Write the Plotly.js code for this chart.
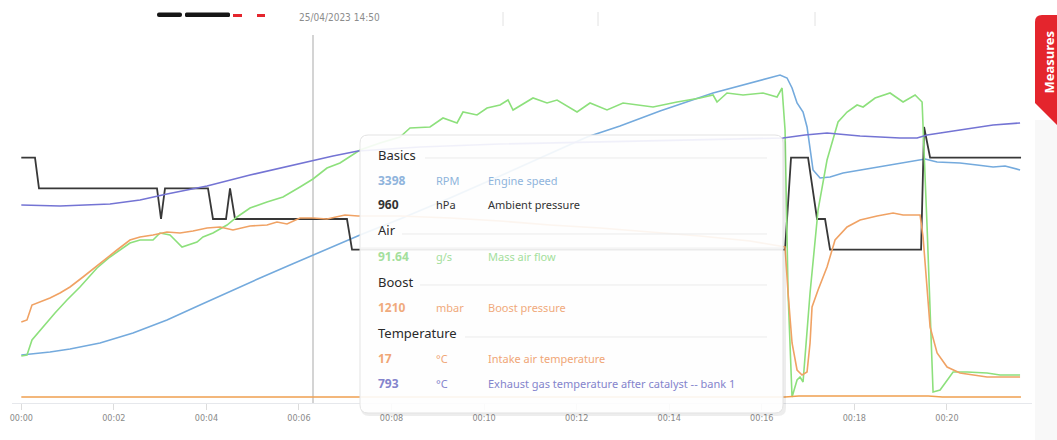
<!DOCTYPE html>
<html>
<head>
<meta charset="utf-8">
<script src="https://cdn.plot.ly/plotly-3.0.1.min.js"></script>
<style>html,body{margin:0;padding:0;background:#fff;}#chart{width:1057px;height:440px;}</style>
</head>
<body>
<div id="chart"></div>
<script>
// ---------- DATA (time in minutes) ----------
const tickVals = [0, 2, 4, 6, 8, 10, 12, 14, 16, 18, 20];
const tickLabels = ["00:00","00:02","00:04","00:06","00:08","00:10","00:12","00:14","00:16","00:18","00:20"];

// Engine speed (RPM)
const rpmT = [0,0.330,0.620,1.052,1.701,2.414,3.148,3.861,4.574,5.158,5.806,6.303,6.886,7.319,8.183,9.263,10.344,11.425,12.224,12.937,13.801,14.947,15.746,16.179,16.395,16.546,16.654,16.762,16.892,16.978,17.043,17.108,17.259,17.475,17.756,18.491,19.356,19.529,19.788,20.282,20.652,20.998,21.257,21.581];
const rpmV = [1400,1430,1460,1520,1640,1840,2100,2400,2700,2940,3200,3400,3640,3800,4120,4540,4980,5420,5760,5980,6280,6640,6840,6940,7000,6940,6740,6440,6260,5960,5500,5100,4940,4960,5040,5160,5300,5320,5260,5240,5200,5160,5180,5100];

// Ambient pressure (hPa)
const ambT = [0,0.296,0.382,2.932,3.019,3.105,4.034,4.142,4.423,4.510,4.618,7.037,7.146,16.503,16.632,17.000,17.194,17.367,17.475,19.442,19.507,19.637,21.602];
const ambV = [962,962,961,961,960,961,961,960,960,961,960,960,959,959,962,962,960,960,959,959,963,962,962];

// Mass air flow (g/s)
const mafT = [0,0.123,0.231,0.469,0.728,0.987,1.268,1.636,1.917,2.348,2.565,2.846,2.997,3.213,3.473,3.797,3.926,4.142,4.445,4.661,4.942,5.309,5.655,6.022,6.303,6.605,6.886,7.319,7.751,8.183,8.399,8.831,9.112,9.415,9.544,9.847,10.063,10.344,10.517,10.625,11.057,11.360,11.576,12.008,12.289,12.656,13.002,13.650,14.169,14.666,14.947,15.033,15.249,15.595,16.027,16.330,16.438,16.503,16.568,16.654,16.762,16.827,16.892,17.043,17.216,17.410,17.648,17.843,18.059,18.189,18.448,18.772,19.053,19.313,19.464,19.572,19.701,19.853,20.134,20.436,20.868,21.149,21.581];
const mafV = [20.8,21.2,27.2,32.4,38.0,43.2,48.4,56.0,60.4,66.0,67.2,67.2,70.0,69.2,64.4,66.4,68.4,70.0,73.2,76.4,80.0,82.4,84.4,88.4,91.6,96.0,98.0,103.2,106.0,108.4,112.0,112.4,116.0,114.0,118.4,117.2,120.0,121.2,123.2,119.2,124.0,122.0,123.2,118.4,122.0,119.2,122.0,120.4,122.4,124.0,125.2,122.4,126.0,125.2,126.0,124.4,128.0,111.2,46.0,4.4,11.2,12.4,10.4,46.0,79.2,99.2,114.4,118.4,121.2,120.4,124.0,126.0,122.4,125.2,122.4,72.4,6.4,7.2,14.4,14.4,14.0,13.2,13.2];

// Boost pressure (mbar)
const bstT = [0,0.123,0.231,0.404,0.620,0.836,1.052,1.333,1.701,2.067,2.348,2.565,2.846,3.148,3.429,3.710,4.013,4.293,4.574,4.942,5.309,5.525,5.741,6.022,6.303,6.605,6.994,7.275,8.183,9.263,10.344,11.425,12.505,13.585,14.666,15.746,16.503,16.568,16.654,16.762,16.870,16.978,17.043,17.086,17.216,17.410,17.583,17.843,18.124,18.491,18.837,19.053,19.420,19.485,19.637,19.788,20.004,20.282,20.868,21.581];
const bstV = [1002,1006,1036,1042,1050,1060,1072,1092,1120,1146,1166,1172,1176,1182,1180,1184,1190,1192,1186,1194,1196,1202,1198,1210,1210,1208,1216,1214,1214,1210,1204,1196,1190,1182,1174,1164,1152,1060,960,906,896,902,960,1032,1066,1112,1166,1192,1206,1214,1220,1216,1216,1172,992,940,912,900,892,892];

// Intake air temperature (°C)
const iatT = [0, 6.303, 12.0, 16.5, 16.8, 19.6, 19.9, 21.6];
const iatV = [17, 17, 17, 17, 18, 18, 17, 17];

// Exhaust gas temperature after catalyst, bank 1 (°C)
const egtT = [0,0.836,1.917,2.565,3.148,4.013,4.942,5.590,6.303,6.735,7.275,8.615,10.344,12.505,14.666,16.460,16.935,17.410,18.124,18.988,19.356,19.572,20.282,20.998,21.581];
const egtV = [703,701,705,713,725,741,763,777,793,801,811,819,825,829,833,837,843,847,841,837,837,843,853,863,867];

// Tooltip contents
const cursorT = 6.303;
const groups = ["Basics","Air","Boost","Temperature"];
const rowValues = ["3398","960","91.64","1210","17","793"];
const rowUnits = ["RPM","hPa","g/s","mbar","°C","°C"];
const rowNames = ["Engine speed","Ambient pressure","Mass air flow","Boost pressure","Intake air temperature","Exhaust gas temperature after catalyst -- bank 1"];
const headerDate = "25/04/2023 14:50";
const tabLabel = "Measures";

// ---------- LAYOUT HELPERS ----------
const L = 12, R = 1032, T = 35, B = 403;
const px = x => (x - L) / (R - L);
const py = y => (B - y) / (B - T);
function rr(x0, y0, x1, y1, r) {
  const a = px(x0), b = px(x1), t = py(y0), u = py(y1);
  const rx = r / (R - L), ry = r / (B - T);
  return `M${a+rx},${t} L${b-rx},${t} Q${b},${t} ${b},${t-ry} L${b},${u+ry} Q${b},${u} ${b-rx},${u} L${a+rx},${u} Q${a},${u} ${a},${u+ry} L${a},${t-ry} Q${a},${t} ${a+rx},${t} Z`;
}

const colRPM = '#74aadd', colAmb = '#383838', colMAF = '#8de07c', colBst = '#f0a264', colIat = '#f0a050', colEgt = '#7474d4';

function tr(x, y, ax, color, w) {
  return {x: x, y: y, yaxis: ax, type: 'scatter', mode: 'lines', line: {color: color, width: w}, hoverinfo: 'skip'};
}
const data = [
  tr(iatT, iatV, 'y5', colIat, 1.6),
  tr(egtT, egtV, 'y6', colEgt, 1.6),
  tr(rpmT, rpmV, 'y', colRPM, 1.6),
  tr(bstT, bstV, 'y4', colBst, 1.6),
  tr(mafT, mafV, 'y3', colMAF, 1.6),
  tr(ambT, ambV, 'y2', colAmb, 1.8)
];

const hid = (range) => ({range: range, visible: false, showgrid: false, zeroline: false, fixedrange: true});
const layout = {
  width: 1057, height: 440,
  margin: {l: L, r: 1057 - R, t: T, b: 440 - B},
  paper_bgcolor: '#ffffff', plot_bgcolor: '#ffffff',
  showlegend: false, hovermode: false,
  xaxis: {
    range: [(L - 21.3) / 46.28, (R - 21.3) / 46.28],
    tickmode: 'array', tickvals: tickVals, ticktext: tickLabels,
    showgrid: false, zeroline: false,
    showline: true, linecolor: '#e6e8ec', linewidth: 1,
    ticks: 'outside', ticklen: 6, tickcolor: '#dcdcdc', tickwidth: 1,
    tickfont: {family: 'DejaVu Sans Condensed', size: 9, color: '#8a8a8a'},
    fixedrange: true
  },
  yaxis: hid([440, 7800]),
  yaxis2: Object.assign(hid([954, 966]), {overlaying: 'y'}),
  yaxis3: Object.assign(hid([2, 149.2]), {overlaying: 'y'}),
  yaxis4: Object.assign(hid([840, 1576]), {overlaying: 'y'}),
  yaxis5: Object.assign(hid([11, 379]), {overlaying: 'y'}),
  yaxis6: Object.assign(hid([307, 1043]), {overlaying: 'y'}),
  shapes: [],
  annotations: []
};
const S = layout.shapes, A = layout.annotations;

// cursor line
S.push({type: 'line', xref: 'x', yref: 'paper', x0: cursorT, x1: cursorT, y0: 0, y1: 1, line: {color: '#d4d4d4', width: 2}, layer: 'below'});

// right strip & Measures tab
S.push({type: 'rect', xref: 'paper', yref: 'paper', x0: px(1035), x1: px(1057), y0: py(440), y1: py(120), fillcolor: '#f8f8f8', line: {width: 0}, layer: 'above'});
S.push({type: 'path', xref: 'paper', yref: 'paper', path: 'M' + px(1057) + ',' + py(15) + ' L' + px(1042) + ',' + py(15) + ' Q' + px(1035) + ',' + py(15) + ' ' + px(1035) + ',' + py(22) + ' L' + px(1035) + ',' + py(103) + ' L' + px(1057) + ',' + py(125) + ' Z', fillcolor: '#e4252d', line: {width: 0}, layer: 'above'});
A.push({xref: 'paper', yref: 'paper', x: px(1048.5), y: py(62), text: '<b>' + tabLabel + '</b>', showarrow: false, textangle: -90, font: {family: 'Noto Sans', size: 13, color: '#ffffff'}, xanchor: 'center', yanchor: 'middle', borderpad: 0});

// header: logo fragments, date, dividers
S.push({type: 'path', xref: 'paper', yref: 'paper', path: rr(157, 12.5, 182, 17, 2), fillcolor: '#161616', line: {width: 0}, layer: 'above'});
S.push({type: 'path', xref: 'paper', yref: 'paper', path: rr(185, 12.5, 230, 17, 1.5), fillcolor: '#161616', line: {width: 0}, layer: 'above'});
S.push({type: 'rect', xref: 'paper', yref: 'paper', x0: px(233), x1: px(242), y0: py(17), y1: py(14), fillcolor: '#e4252d', line: {width: 0}, layer: 'above'});
S.push({type: 'rect', xref: 'paper', yref: 'paper', x0: px(257), x1: px(265), y0: py(17), y1: py(14), fillcolor: '#e4252d', line: {width: 0}, layer: 'above'});
A.push({xref: 'paper', yref: 'paper', x: px(297), y: py(18), text: headerDate, showarrow: false, xanchor: 'left', yanchor: 'middle', font: {family: 'DejaVu Sans Condensed', size: 10, color: '#8c8c8c'}});
[503, 598, 815].forEach(xx => S.push({type: 'line', xref: 'paper', yref: 'paper', x0: px(xx), x1: px(xx), y0: py(12), y1: py(26), line: {color: '#e2e2e2', width: 1}, layer: 'above'}));

// tooltip panel
S.push({type: 'path', xref: 'paper', yref: 'paper', path: rr(361, 137, 786, 416, 8), fillcolor: 'rgba(0,0,0,0.07)', line: {width: 0}, layer: 'above'});
S.push({type: 'path', xref: 'paper', yref: 'paper', path: rr(360, 135, 783, 413, 8), fillcolor: 'rgba(255,255,255,0.9)', line: {color: '#e3e3e3', width: 1}, layer: 'above'});
S.push({type: 'line', xref: 'paper', yref: 'paper', x0: px(361), x1: px(782), y0: py(248), y1: py(248), line: {color: '#f0f0f0', width: 1}, layer: 'above'});

const hdrY = [155, 230, 282, 333];
const hdrLineX = [425, 402, 420, 465];
const hdrLineY = [158, 234, 285, 337];
groups.forEach((g, i) => {
  A.push({xref: 'paper', yref: 'paper', x: px(376), y: py(hdrY[i]), text: g, showarrow: false, xanchor: 'left', yanchor: 'middle', font: {family: 'Noto Sans', size: 13, color: '#2a2a2a'}});
  S.push({type: 'line', xref: 'paper', yref: 'paper', x0: px(hdrLineX[i]), x1: px(767), y0: py(hdrLineY[i]), y1: py(hdrLineY[i]), line: {color: '#ebebeb', width: 1}, layer: 'above'});
});
const rowY = [180, 204, 256, 307, 358, 383];
const rowCol = ['#8fb4dc', '#333333', '#a4df9c', '#f0aa7c', '#f0a676', '#8484cc'];
rowValues.forEach((v, i) => {
  const f = {family: 'Noto Sans', size: 11, color: rowCol[i]};
  A.push({xref: 'paper', yref: 'paper', x: px(376), y: py(rowY[i]), text: '<b>' + v + '</b>', showarrow: false, xanchor: 'left', yanchor: 'middle', font: {family: 'Noto Sans', size: 12, color: rowCol[i]}});
  A.push({xref: 'paper', yref: 'paper', x: px(434), y: py(rowY[i]), text: rowUnits[i], showarrow: false, xanchor: 'left', yanchor: 'middle', font: f});
  A.push({xref: 'paper', yref: 'paper', x: px(486), y: py(rowY[i]), text: rowNames[i], showarrow: false, xanchor: 'left', yanchor: 'middle', font: f});
});

Plotly.newPlot('chart', data, layout, {staticPlot: true, displayModeBar: false});
</script>
</body>
</html>
